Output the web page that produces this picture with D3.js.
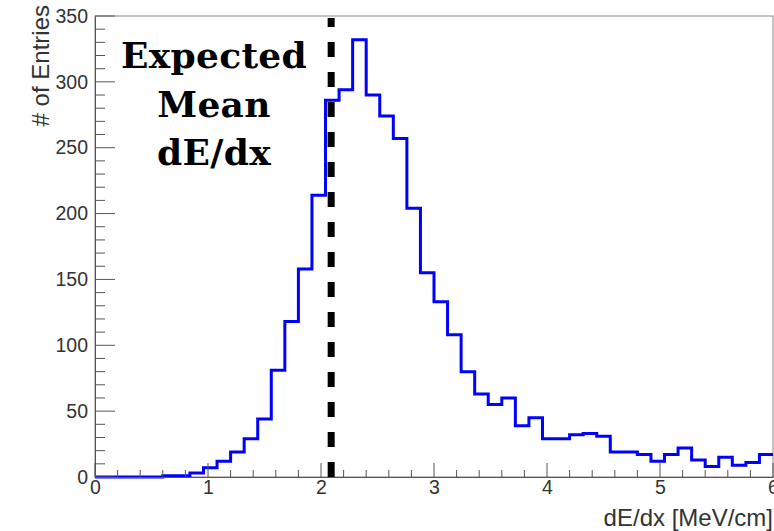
<!DOCTYPE html>
<html>
<head>
<meta charset="utf-8">
<script src="https://cdn.jsdelivr.net/npm/d3@7"></script>
<style>
  html, body { margin: 0; padding: 0; background: #fff; }
  svg { display: block; }
</style>
</head>
<body>
<svg id="chart" width="774" height="531"></svg>
<script>
// ---- data ----
const binWidth = 0.12;
const binStarts = d3.range(50).map(i => +(i * 0.12).toFixed(2));
const counts = [
  0, 0, 0, 0, 0, 1, 1, 3, 7, 12,
  19, 29, 44, 81, 118, 158, 214, 286, 294, 332,
  290, 274, 257, 204, 155, 133, 108, 80, 63, 55,
  60, 39, 45, 29, 29, 32, 33, 31, 19, 19,
  17, 12, 17, 22, 13, 8, 15, 9, 11, 17
];
const xTicks = [0, 1, 2, 3, 4, 5, 6];
const yTicks = [0, 50, 100, 150, 200, 250, 300, 350];
const expectedMean = 2.09;
const annotationLines = ["Expected", "Mean", "dE/dx"];
const xTitle = "dE/dx [MeV/cm]";
const yTitle = "# of Entries";

// ---- layout ----
const L = 95, R = 773, T = 16, B = 477;
const svg = d3.select("#chart");
const x = d3.scaleLinear().domain([0, 6]).range([L, R]);
const y = d3.scaleLinear().domain([0, 350]).range([B, T]);
const axisColor = "#555";
const labelFont = "'Liberation Sans', Arial, Helvetica, sans-serif";

// frame
svg.append("rect").attr("x", L).attr("y", T).attr("width", R - L).attr("height", B - T)
  .attr("fill", "none").attr("stroke", "#888").attr("stroke-width", 1);

// histogram path (step)
const pts = [[x(0), y(0)]];
binStarts.forEach((s, i) => {
  pts.push([x(s), y(counts[i])]);
  pts.push([x(s + binWidth), y(counts[i])]);
});
svg.append("clipPath").attr("id", "clip").append("rect")
  .attr("x", L).attr("y", T - 2).attr("width", R - L + 1).attr("height", B - T + 4);
svg.append("path")
  .attr("d", d3.line()(pts))
  .attr("fill", "none").attr("stroke", "#0000ff").attr("stroke-width", 3)
  .attr("stroke-linejoin", "miter")
  .attr("clip-path", "url(#clip)");

// y axis
const yAxis = d3.axisLeft(y).tickValues(yTicks).tickFormat(d3.format("d")).tickSize(0).tickPadding(7);
const gy = svg.append("g").attr("transform", `translate(${L},0)`).call(yAxis);
gy.select(".domain").attr("stroke", axisColor);
gy.selectAll("text").attr("font-family", labelFont).attr("font-size", 19.5).attr("fill", "#333");
d3.range(0, 351, 10).forEach(v => {
  const major = v % 50 === 0;
  svg.append("line").attr("x1", L).attr("x2", L + (major ? 20 : 10))
    .attr("y1", y(v)).attr("y2", y(v)).attr("stroke", axisColor).attr("stroke-width", 1);
});

// x axis
const xAxis = d3.axisBottom(x).tickValues(xTicks).tickFormat(d3.format("d")).tickSize(0).tickPadding(3);
const gx = svg.append("g").attr("transform", `translate(0,${B})`).call(xAxis);
gx.select(".domain").attr("stroke", axisColor);
gx.selectAll("text").attr("font-family", labelFont).attr("font-size", 19.5).attr("fill", "#333");
d3.range(0, 6.001, 0.2).forEach(v => {
  const major = Math.abs(v - Math.round(v)) < 1e-6;
  svg.append("line").attr("x1", x(v)).attr("x2", x(v))
    .attr("y1", B).attr("y2", B - (major ? 14 : 7)).attr("stroke", axisColor).attr("stroke-width", 1);
});

// expected mean dashed line
svg.append("line")
  .attr("x1", x(expectedMean)).attr("x2", x(expectedMean))
  .attr("y1", y(0)).attr("y2", y(350) + 2)
  .attr("stroke", "#000").attr("stroke-width", 7)
  .attr("stroke-dasharray", "15,15");

// annotation
const ann = svg.append("text").attr("x", 214).attr("y", 68)
  .attr("text-anchor", "middle")
  .attr("font-family", "'DejaVu Serif', Georgia, serif")
  .attr("font-weight", "bold").attr("font-size", 36).attr("letter-spacing", 0.3)
  .attr("fill", "#000");
annotationLines.forEach((t, i) => {
  ann.append("tspan").attr("x", 214).attr("y", 68 + i * 48.5).text(t);
});

// axis titles
svg.append("text").attr("x", 773).attr("y", 526).attr("text-anchor", "end")
  .attr("font-family", labelFont).attr("font-size", 24).attr("fill", "#333").text(xTitle);
svg.append("text").attr("transform", "translate(49,5) rotate(-90)")
  .attr("text-anchor", "end")
  .attr("font-family", labelFont).attr("font-size", 24).attr("fill", "#333").text(yTitle);
</script>
</body>
</html>
